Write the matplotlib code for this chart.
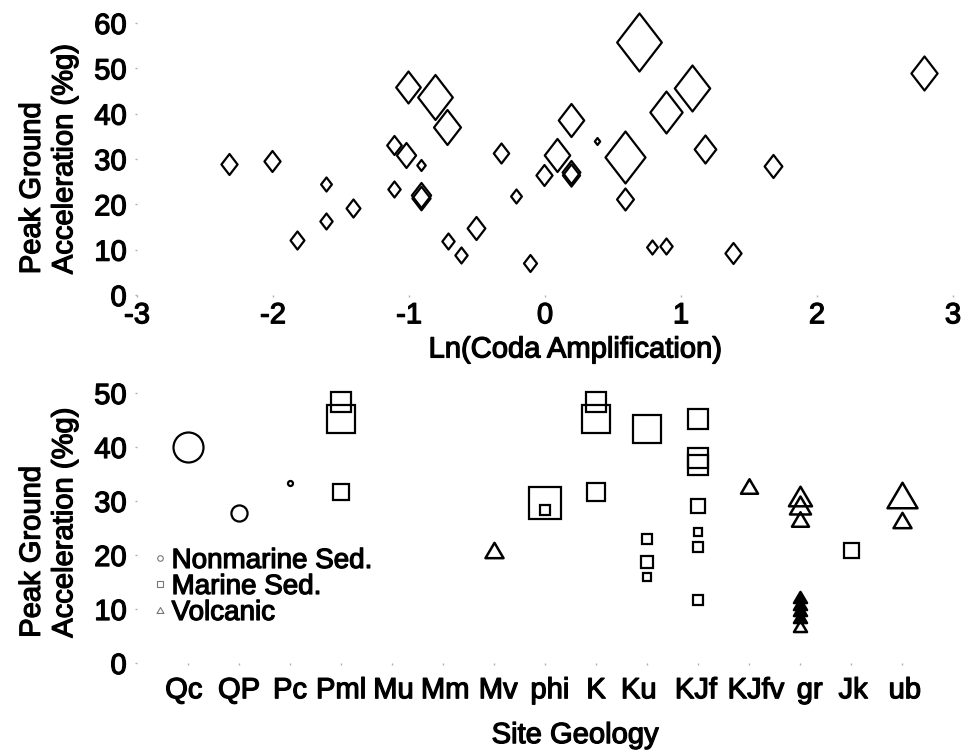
import numpy as np
import matplotlib.pyplot as plt
import matplotlib.patheffects as pe
from matplotlib.path import Path
from matplotlib.lines import Line2D

plt.rcParams['font.family'] = ['Liberation Sans', 'DejaVu Sans']
plt.rcParams['font.size'] = 21
plt.rcParams['axes.unicode_minus'] = False

# --- upper panel: PGA versus log coda amplification ---
ln_coda = [-2.32, -2.01, -1.61, -1.82, -1.61, -1.41, -1.11, -1.01, -0.81, -0.72,
           -1.02, -0.91, -1.11, -0.91, -0.91, -0.71, -0.62, -0.51, -0.32, -0.21,
           -0.11, -0.01, 0.09, 0.19, 0.19, 0.19, 0.38, 0.59, 0.59, 0.69,
           0.79, 0.89, 0.89, 1.08, 1.18, 1.38, 1.68, 2.79]
pga_coda = [29.0, 29.6, 24.5, 12.1, 16.4, 19.1, 33.0, 45.8, 43.6, 37.1,
            30.9, 28.7, 23.3, 22.0, 21.3, 12.0, 8.8, 14.7, 31.3, 21.9,
            7.0, 26.5, 30.9, 38.6, 27.2, 26.5, 33.9, 30.4, 21.2, 55.7,
            10.6, 10.9, 40.3, 45.6, 32.2, 9.2, 28.5, 48.9]
# diamond height in points for each event
diamond_pt = [15.1, 15.1, 10.1, 13.0, 11.5, 13.0, 13.7, 23.0, 32.4, 25.2,
              18.0, 7.9, 11.5, 18.0, 17.0, 11.5, 11.5, 16.6, 14.4, 10.1,
              12.2, 15.1, 23.8, 23.8, 16.6, 16.0, 5.0, 37.4, 15.8, 41.8,
              10.1, 11.5, 30.2, 33.1, 20.2, 15.1, 16.6, 24.5]

# --- lower panel: PGA by site geology ---
geology = ['Qc', 'QP', 'Pc', 'Pml', 'Mu', 'Mm', 'Mv', 'phi', 'K', 'Ku',
           'KJf', 'KJfv', 'gr', 'Jk', 'ub']
# hand placement of the unit names under each column (points)
geology_nudge = [-3, 0, 0, 0, 1, 1.5, 3, 3.5, 0, -6, -1.5, 5, 7, 1.5, 2]

nonmarine_geo = ['Qc', 'QP', 'Pc']
nonmarine_pga = [40.0, 27.8, 33.3]
nonmarine_pt = [21.6, 11.6, 3.6]

marine_geo = ['Pml', 'Pml', 'Pml', 'phi', 'phi', 'K', 'K', 'K',
              'Ku', 'Ku', 'Ku', 'Ku',
              'KJf', 'KJf', 'KJf', 'KJf', 'KJf', 'KJf', 'KJf', 'Jk']
marine_pga = [48.3, 45.2, 31.7, 29.6, 28.3, 48.3, 45.2, 31.7,
              43.3, 23.0, 18.7, 16.0,
              45.2, 38.0, 36.7, 29.1, 24.2, 21.5, 11.7, 21.0]
marine_pt = [14.4, 20.2, 11.6, 23.1, 6.5, 14.4, 19.5, 12.3,
             20.2, 7.2, 8.7, 5.8,
             13.7, 13.7, 13.7, 10.1, 5.1, 6.5, 7.2, 10.8]

volcanic_geo = ['Mv', 'KJfv', 'gr', 'gr', 'gr', 'gr', 'ub', 'ub']
volcanic_pga = [20.9, 32.8, 31.0, 29.3, 26.6, 6.9, 31.2, 26.5]
volcanic_pt = [13.0, 12.3, 16.6, 15.2, 12.3, 9.4, 21.6, 13.0]

volcanic_solid_geo = ['gr', 'gr', 'gr', 'gr']
volcanic_solid_pga = [12.2, 11.0, 9.8, 8.6]
volcanic_solid_pt = [9.4, 9.4, 9.4, 9.4]

# marker outlines: tall diamond and squat triangle
diamond = Path([(0, 1), (0.77, 0), (0, -1), (-0.77, 0), (0, 1)],
               [Path.MOVETO, Path.LINETO, Path.LINETO, Path.LINETO, Path.CLOSEPOLY])
triangle = Path([(0, 0.85), (1, -0.85), (-1, -0.85), (0, 0.85)],
                [Path.MOVETO, Path.LINETO, Path.LINETO, Path.CLOSEPOLY])

fig = plt.figure(figsize=(9.64, 7.53), dpi=100)
ax1 = fig.add_axes([0.1421, 0.6082, 0.8465, 0.3613])
ax2 = fig.add_axes([0.1421, 0.1195, 0.8465, 0.3586])

bold = [pe.withStroke(linewidth=0.9, foreground='black')]


def clean(ax):
    for s in ax.spines.values():
        s.set_visible(False)
    ax.tick_params(length=1.5, width=1, color='#b0b0b0')


def markers(ax, xs, ys, sizes, marker, face='none', lw=1.6):
    for x, y, s in zip(xs, ys, sizes):
        ax.plot(x, y, linestyle='none', marker=marker, markersize=s,
                markerfacecolor=face, markeredgecolor='black',
                markeredgewidth=lw, clip_on=False)


markers(ax1, ln_coda, pga_coda, diamond_pt, diamond)
ax1.set_xlim(-3, 3)
ax1.set_ylim(0, 60)
ax1.set_xticks(range(-3, 4))
ax1.set_yticks(range(0, 61, 10))
clean(ax1)
ax1.tick_params(axis='x', pad=3)
ax1.tick_params(axis='y', pad=6)
ax1.set_xlabel('Ln(Coda Amplification)', va='center')
ax1.xaxis.set_label_coords(0.537, -0.2)
ax1.set_ylabel('Peak Ground\nAcceleration (%g)', multialignment='left', va='center')
ax1.yaxis.set_label_coords(-0.109, 0.5)

pos = {g: i + 1 for i, g in enumerate(geology)}
markers(ax2, [pos[g] for g in nonmarine_geo], nonmarine_pga, nonmarine_pt, 'o')
markers(ax2, [pos[g] for g in marine_geo], marine_pga, marine_pt, 's')
markers(ax2, [pos[g] for g in volcanic_geo], volcanic_pga, volcanic_pt, triangle, lw=1.8)
markers(ax2, [pos[g] for g in volcanic_solid_geo], volcanic_solid_pga,
        volcanic_solid_pt, triangle, face='black', lw=1.8)
ax2.set_xlim(0, 16)
ax2.set_ylim(0, 50)
ax2.set_xticks(range(1, len(geology) + 1))
ax2.set_xticklabels([])
ax2.set_yticks(range(0, 51, 10))
clean(ax2)
ax2.tick_params(axis='y', pad=6)
for g, dx in zip(geology, geology_nudge):
    ax2.annotate(g, xy=(pos[g], 0), xycoords=('data', 'axes fraction'),
                 xytext=(dx, -9.5), textcoords='offset points',
                 ha='center', va='top', path_effects=bold)
ax2.set_xlabel('Site Geology', va='center')
ax2.xaxis.set_label_coords(0.537, -0.267)
ax2.set_ylabel('Peak Ground\nAcceleration (%g)', multialignment='left', va='center')
ax2.yaxis.set_label_coords(-0.109, 0.52)

handles = [
    Line2D([], [], linestyle='none', marker='o', markersize=4, markerfacecolor='none',
           markeredgecolor='#777777', markeredgewidth=0.8),
    Line2D([], [], linestyle='none', marker='s', markersize=4, markerfacecolor='none',
           markeredgecolor='#777777', markeredgewidth=0.8),
    Line2D([], [], linestyle='none', marker=triangle, markersize=5, markerfacecolor='none',
           markeredgecolor='#777777', markeredgewidth=0.8),
]
leg = ax2.legend(handles, ['Nonmarine Sed.', 'Marine Sed.', 'Volcanic'],
                 loc='upper left', bbox_to_anchor=(0.022, 0.426), frameon=False,
                 fontsize=20, borderpad=0, borderaxespad=0, handlelength=0.4,
                 handletextpad=0.2, labelspacing=0.0)

# heavier lettering
for ax in (ax1, ax2):
    for t in ax.get_xticklabels() + ax.get_yticklabels():
        t.set_path_effects(bold)
    ax.xaxis.label.set_path_effects(bold)
    ax.yaxis.label.set_path_effects(bold)
for t in leg.get_texts():
    t.set_path_effects(bold)

fig.savefig('out.png', dpi=100)
